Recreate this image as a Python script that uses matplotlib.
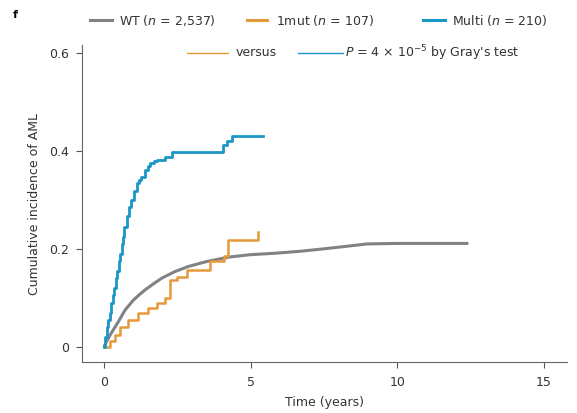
import matplotlib.pyplot as plt
from matplotlib.lines import Line2D

plt.rcParams['font.family'] = ['DejaVu Sans']

# region Data
wt_t = [0, 0.1, 0.25, 0.5, 0.72, 1.0, 1.2, 1.4, 1.7, 1.97, 2.4, 2.88, 3.5, 4.24, 4.98, 5.84, 6.69,
        7.5, 8.4, 8.97, 10.0, 11.0, 12.43]
wt_ci = [0, 0.012, 0.028, 0.052, 0.075, 0.095, 0.106, 0.116, 0.129, 0.14, 0.153, 0.164, 0.174, 0.183,
         0.188, 0.191, 0.195, 0.2, 0.206, 0.21, 0.211, 0.211, 0.211]

mut1_t = [0, 0.2, 0.37, 0.55, 0.83, 1.17, 1.51, 1.8, 2.08, 2.25, 2.5, 2.82, 3.62, 4.1, 4.24, 5.27]
mut1_ci = [0, 0.012, 0.024, 0.041, 0.055, 0.069, 0.079, 0.089, 0.099, 0.137, 0.143, 0.157, 0.175, 0.185, 0.218, 0.235]

multi_t = [0, 0.05, 0.1, 0.15, 0.2, 0.25, 0.3, 0.35, 0.4, 0.45, 0.5, 0.55, 0.6, 0.65, 0.7, 0.77,
           0.85, 0.94, 1.03, 1.12, 1.2, 1.28, 1.4, 1.5, 1.57, 1.7, 1.8, 2.08, 2.31, 4.07, 4.2, 4.36, 5.44]
multi_ci = [0, 0.02, 0.04, 0.055, 0.07, 0.09, 0.105, 0.12, 0.14, 0.155, 0.175, 0.19, 0.21, 0.225, 0.245, 0.266,
            0.285, 0.30, 0.318, 0.334, 0.34, 0.347, 0.36, 0.37, 0.375, 0.38, 0.382, 0.388, 0.397, 0.412, 0.42,
            0.43, 0.43]

x_ticks = [0, 5, 10, 15]
y_ticks = [0, 0.2, 0.4, 0.6]
y_ticklabels = ['0', '0.2', '0.4', '0.6']
legend_top = ['WT ($\\it{n}$ = 2,537)', '1mut ($\\it{n}$ = 107)', 'Multi ($\\it{n}$ = 210)']
# endregion

c_wt = '#808285'
c_1mut = '#E6993A'
c_multi = '#1A97C6'
txt = '#333333'
fs = 9

fig = plt.figure(figsize=(5.77, 4.13), dpi=100)
ax = fig.add_axes([0.142, 0.1235, 0.841, 0.7675])

ax.plot(wt_t, wt_ci, color=c_wt, lw=2.2, solid_capstyle='butt')
ax.step(mut1_t, mut1_ci, where='post', color=c_1mut, lw=1.8)
ax.step(multi_t, multi_ci, where='post', color=c_multi, lw=2.0)

ax.set_xlim(-0.75, 15.8)
ax.set_ylim(-0.031, 0.616)
ax.set_xticks(x_ticks)
ax.set_yticks(y_ticks)
ax.set_yticklabels(y_ticklabels)
ax.tick_params(labelsize=fs, colors='#555555', labelcolor=txt, length=4, width=0.8)
ax.tick_params(axis='y', pad=5)
ax.tick_params(axis='x', pad=6)
for side in ['top', 'right']:
    ax.spines[side].set_visible(False)
for side in ['left', 'bottom']:
    ax.spines[side].set_color('#666666')
    ax.spines[side].set_linewidth(0.8)

ax.set_xlabel('Time (years)', fontsize=fs, color=txt, labelpad=5)
ax.set_ylabel('Cumulative incidence of AML', fontsize=fs, color=txt, labelpad=6)

fig.text(0.022, 0.975, 'f', fontsize=8, fontweight='bold', va='top')

# legend rows, drawn by hand in figure pixels
W, H = 577, 413
def leg_line(x0, x1, y, color, lw):
    fig.add_artist(Line2D([x0 / W, x1 / W], [1 - y / H, 1 - y / H], color=color, lw=lw,
                          transform=fig.transFigure))

def leg_text(x, y, s):
    fig.text(x / W, 1 - y / H, s, fontsize=fs, color=txt, va='center', ha='left')

row1 = [(90, 112, c_wt), (247, 267, c_1mut), (423, 445, c_multi)]
text_x = [119, 276, 452]
for (x0, x1, col), tx, lab in zip(row1, text_x, legend_top):
    leg_line(x0, x1, 20, col, 2.2)
    leg_text(tx, 20, lab)

leg_line(187, 228, 53, c_1mut, 1.0)
leg_text(236, 53, 'versus')
leg_line(298, 343, 53, c_multi, 1.0)
leg_text(345, 53, '$\\it{P}$ = 4 × 10$^{-5}$ by Gray\'s test')

fig.savefig('out.png', dpi=100)
